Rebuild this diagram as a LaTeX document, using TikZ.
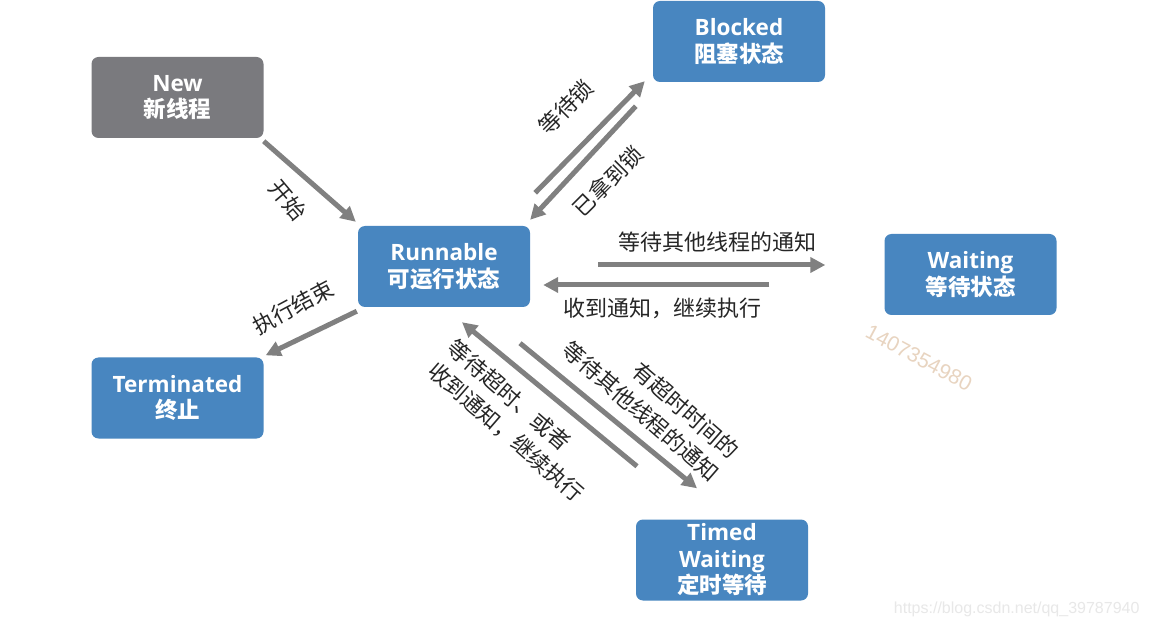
\documentclass[tikz,border=0pt]{standalone}
\usepackage{fontspec}
\setmainfont{Open Sans}
\newfontfamily\cjk{Noto Sans CJK SC}
\newfontfamily\wmfont{Liberation Sans}
\usetikzlibrary{arrows.meta,calc}
\definecolor{boxblue}{RGB}{72,134,192}
\definecolor{boxgray}{RGB}{122,122,126}
\definecolor{arrowgray}{RGB}{128,128,128}
\definecolor{wmtan}{RGB}{232,212,192}
\definecolor{wmgray}{RGB}{232,232,232}
\tikzset{
  state/.style={rectangle, rounded corners=7pt, fill=boxblue, text=white,
    minimum width=172pt, minimum height=81pt, align=center, inner sep=0pt,
    font=\fontsize{22.5}{26.5}\selectfont\bfseries},
  conn/.style={draw=arrowgray, line width=5pt, -{Triangle[length=15pt,width=15pt]}},
  lbl/.style={font=\cjk\fontsize{22}{30}\selectfont, text=black!85, inner sep=0pt},
}
\begin{document}
\begin{tikzpicture}[x=1pt,y=-1pt]
\useasboundingbox[fill=white] (0,0) rectangle (1152,628);

% states
\node[state, fill=boxgray] (new) at (177.5,97.5) {New\\{\cjk\bfseries 新线程}};
\node[state] (blocked) at (739,41.5) {Blocked\\{\cjk\bfseries 阻塞状态}};
\node[state] (run) at (444,266.5) {Runnable\\{\cjk\bfseries 可运行状态}};
\node[state] (wait) at (970.5,274.5) {Waiting\\{\cjk\bfseries 等待状态}};
\node[state] (term) at (177.5,398) {Terminated\\{\cjk\bfseries 终止}};
\node[state] (timed) at (722,560) {Timed\\Waiting\\{\cjk\bfseries 定时等待}};

% connectors
\draw[conn] ($(new.south east)+(0,3)$) -- ($(run.north west)+(-2,-4)$);
\draw[conn] ($(run.north east)+(5,-33)$) -- ($(blocked.south west)+(-8,-1)$);
\draw[conn] ($(blocked.south west)+(-17,24)$) -- ($(run.north east)+(0,-6)$);
\draw[conn] ($(run.east)+(68,-1.5)$) -- ($(wait.west)+(-59,-9.5)$);
\draw[conn] ($(wait.west)+(-115,10.5)$) -- ($(run.east)+(13,18.5)$);
\draw[conn] ($(run.south west)+(-1,4)$) -- ($(term.north east)+(2,-2)$);
\draw[conn] ($(run.south)+(76,36)$) -- ($(timed.north)+(-25,-31)$);
\draw[conn] ($(timed.north)+(-85,-53)$) -- ($(run.south)+(18,15)$);

% labels
\node[lbl, rotate=-50] (l1) at (288,200) {开始};
\node[lbl, rotate=45] (l2) at (566,107) {等待锁};
\node[lbl, rotate=45] (l3) at (608,181) {已拿到锁};
\node[lbl] (l4) at (717,242) {等待其他线程的通知};
\node[lbl] (l5) at (662,308) {收到通知，继续执行};
\node[lbl, rotate=28] (l6) at (293,307) {执行结束};
\node[lbl, rotate=-41, align=right] (l7) at (651,400) {有超时时间的\\等待其他线程的通知};
\node[lbl, rotate=-41, align=left] (l8) at (516,421) {等待超时、或者\\收到通知，继续执行};

% watermarks
\node[font=\wmfont\fontsize{21}{21}\selectfont, text=wmtan, rotate=-28] (wm1) at (919,358) {1407354980};
\node[font=\wmfont\fontsize{16}{16}\selectfont, text=wmgray, anchor=east] (wm2) at (1143,609) {https://blog.csdn.net/qq\_39787940};
\end{tikzpicture}
\end{document}
